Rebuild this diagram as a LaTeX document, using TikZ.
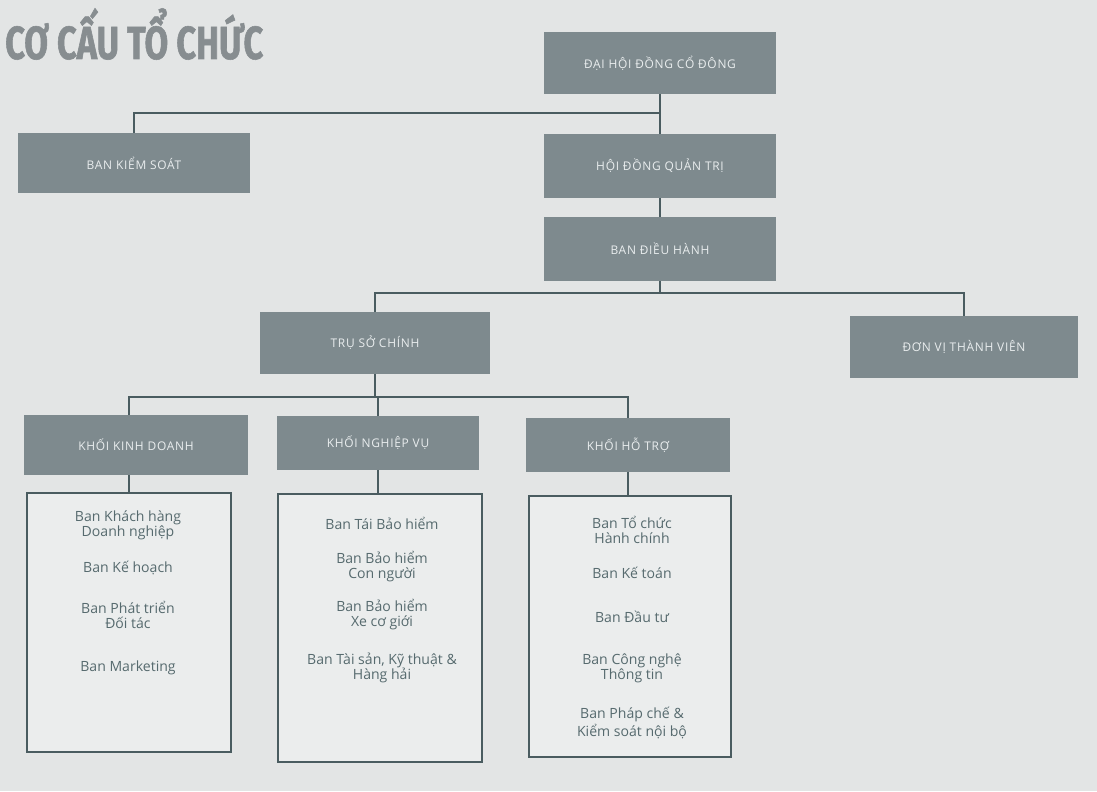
\documentclass[tikz,border=0pt]{standalone}
\usepackage{fontspec}
\setmainfont{Open Sans}
\newfontfamily\headfont{Open Sans}[LetterSpace=6]
\newfontfamily\titlefont{Fira Sans}[FakeStretch=0.74, FakeBold=1.2]

\definecolor{paper}{HTML}{E3E5E5}
\definecolor{listbg}{HTML}{EBEDED}
\definecolor{boxgray}{HTML}{7E8A8E}
\definecolor{boxtext}{HTML}{E9EDEE}
\definecolor{linegray}{HTML}{4A5C60}
\definecolor{itemtext}{HTML}{566A6E}
\definecolor{titlegray}{HTML}{878D90}

\begin{document}
\begin{tikzpicture}[x=0.025cm, y=-0.025cm,
        head/.style={rectangle, fill=boxgray, text=boxtext, inner sep=0pt,
            font=\headfont\fontsize{8.5}{10}\selectfont},
        unit/.style={rectangle, draw=linegray, line width=1.1pt, fill=listbg, inner sep=0pt},
        item/.style={align=center, text=itemtext, inner sep=0pt,
            font=\fontsize{10}{10.7}\selectfont},
        conn/.style={draw=linegray, line width=1.2pt}]
        \fill[paper] (0,0) rectangle (1097,791);

        \node[anchor=west, inner sep=0pt, text=titlegray,
            font=\titlefont\bfseries\fontsize{33}{33}\selectfont] (title) at (5,34) {CƠ CẤU TỔ CHỨC};

        \node[head, minimum width=5.78cm, minimum height=1.55cm] (dhcd) at (660, 63) {ĐẠI HỘI ĐỒNG CỔ ĐÔNG};
        \node[head, minimum width=5.8cm, minimum height=1.5cm] (bks) at (134, 163) {BAN KIỂM SOÁT};
        \node[head, minimum width=5.78cm, minimum height=1.58cm] (hdqt) at (660, 166) {HỘI ĐỒNG QUẢN TRỊ};
        \node[head, minimum width=5.78cm, minimum height=1.58cm] (bdh) at (660, 249) {BAN ĐIỀU HÀNH};
        \node[head, minimum width=5.75cm, minimum height=1.53cm] (tsc) at (375, 343) {TRỤ SỞ CHÍNH};
        \node[head, minimum width=5.7cm, minimum height=1.53cm] (dvtv) at (964, 347) {ĐƠN VỊ THÀNH VIÊN};
        \node[head, minimum width=5.58cm, minimum height=1.5cm] (kkd) at (136, 445) {KHỐI KINH DOANH};
        \node[head, minimum width=5.05cm, minimum height=1.33cm] (knv) at (378, 443) {KHỐI NGHIỆP VỤ};
        \node[head, minimum width=5.08cm, minimum height=1.35cm] (kht) at (628, 445) {KHỐI HỖ TRỢ};

        \node[unit, minimum width=5.1cm, minimum height=6.48cm] (kkdl) at (129, 622.5) {};
        \node[unit, minimum width=5.1cm, minimum height=6.7cm] (knvl) at (380, 628) {};
        \node[unit, minimum width=5.05cm, minimum height=6.53cm] (khtl) at (630, 626.5) {};

        \node[item] (kkd1) at (128, 525) {Ban Khách hàng\\Doanh nghiệp};
        \node[item] (kkd2) at (128, 568) {Ban Kế hoạch};
        \node[item] (kkd3) at (128, 615) {Ban Phát triển\\Đối tác};
        \node[item] (kkd4) at (128, 668) {Ban Marketing};

        \node[item] (knv1) at (382, 523) {Ban Tái Bảo hiểm};
        \node[item] (knv2) at (382, 567) {Ban Bảo hiểm\\Con người};
        \node[item] (knv3) at (382, 615) {Ban Bảo hiểm\\Xe cơ giới};
        \node[item] (knv4) at (382, 668) {Ban Tài sản, Kỹ thuật \&\\Hàng hải};

        \node[item] (kht1) at (632, 530) {Ban Tổ chức\\Hành chính};
        \node[item] (kht2) at (632, 573) {Ban Kế toán};
        \node[item] (kht3) at (632, 617) {Ban Đầu tư};
        \node[item] (kht4) at (632, 668) {Ban Công nghệ\\Thông tin};
        \node[item] (kht5) at (632, 723) {Ban Pháp chế \&\\Kiểm soát nội bộ};

        \coordinate (busA) at (0, 113);
        \coordinate (busB) at (0, 293);
        \coordinate (busC) at (0, 397);

        \draw[conn] (dhcd.south) -- (hdqt.north);
        \draw[conn] (bks.north) |- (busA -| dhcd.south);
        \draw[conn] (hdqt.south) -- (bdh.north);
        \draw[conn] (bdh.south) -- (bdh.south |- busB);
        \draw[conn] (tsc.north) |- (busB -| dvtv.north) -- (dvtv.north);
        \draw[conn] (tsc.south) -- (tsc.south |- busC);
        \draw[conn] (kkdl.north |- kkd.north) |- (busC -| kht.north) -- (kht.north);
        \draw[conn] (knv.north) -- (knv.north |- busC);

        \draw[conn] (kkd.south -| kkdl.north) -- (kkdl.north);
        \draw[conn] (knv.south) -- (knv.south |- knvl.north);
        \draw[conn] (kht.south) -- (kht.south |- khtl.north);
    \end{tikzpicture}
\end{document}
